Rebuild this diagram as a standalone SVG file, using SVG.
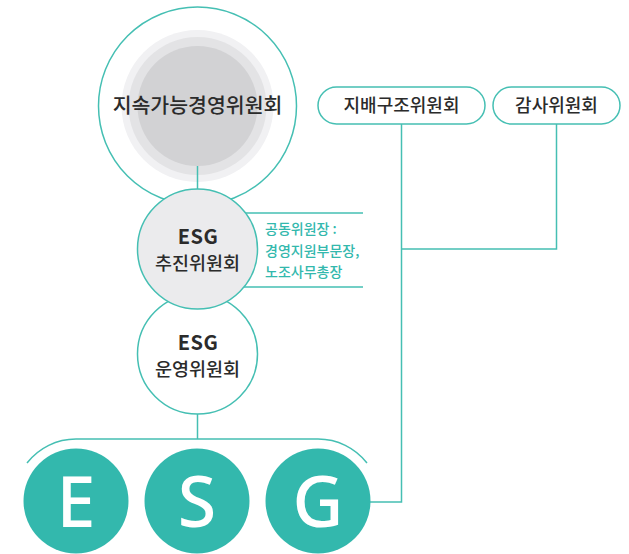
<svg xmlns="http://www.w3.org/2000/svg" width="629" height="554" viewBox="0 0 629 554">
<style>
.ln{fill:none;stroke:#45bfb3;stroke-width:1.5}
.kr{font-family:"Noto Sans CJK KR","Noto Sans",sans-serif;fill:#2b2b2b;text-anchor:middle;font-weight:500}
.esg{font-family:"Noto Sans CJK KR","Noto Sans",sans-serif;fill:#2b2b2b;text-anchor:middle;font-weight:700;font-size:20px;letter-spacing:0.5px}
.note{font-family:"Noto Sans CJK KR","Noto Sans",sans-serif;fill:#33b8ad;font-size:14px;font-weight:500}
.big{font-family:"Noto Sans","DejaVu Sans",sans-serif;fill:#fff;text-anchor:middle;font-size:70px;font-weight:500}
.ec{fill:#33b8ad}
</style>
<rect width="629" height="554" fill="#fff"/>
<g id="connectors">
<line class="ln" x1="197.5" y1="166" x2="197.5" y2="190"/>
<line class="ln" x1="197.5" y1="414" x2="197.5" y2="439"/>
<path class="ln" d="M27 463 A62 62 0 0 1 76 439 L318 439 A62 62 0 0 1 367 463"/>
<path class="ln" d="M401.5 124 L401.5 502 L370 502"/>
<path class="ln" d="M556.5 124 L556.5 249 L401.5 249"/>
<line class="ln" x1="245" y1="213" x2="363" y2="213"/>
<line class="ln" x1="243" y1="287" x2="363" y2="287"/>
</g>
<g id="node-sustain">
<circle cx="197.5" cy="106" r="99" fill="#fff" stroke="#45bfb3" stroke-width="1.5"/>
<circle cx="197.5" cy="106" r="76" fill="#f1f1f3"/>
<circle cx="197.5" cy="106" r="69" fill="#e3e3e5"/>
<circle cx="197.5" cy="106" r="60" fill="#d2d2d4"/>
<line class="ln" x1="197.5" y1="166" x2="197.5" y2="190"/>
<text class="kr" x="197.5" y="113" font-size="20.5">지속가능경영위원회</text>
</g>
<g id="node-operate">
<circle cx="197.5" cy="354" r="60" fill="#fff" stroke="#45bfb3" stroke-width="1.5"/>
<text class="esg" x="198" y="350">ESG</text>
<text class="kr" x="197.5" y="376" font-size="18.5">운영위원회</text>
</g>
<g id="node-promote">
<circle cx="197.5" cy="249" r="60" fill="#ebebed" stroke="#45bfb3" stroke-width="1.5"/>
<text class="esg" x="198" y="244">ESG</text>
<text class="kr" x="197.5" y="270" font-size="18.5">추진위원회</text>
</g>
<g id="node-note">
<text class="note" x="265" y="234">공동위원장 :</text>
<text class="note" x="265" y="256">경영지원부문장,</text>
<text class="note" x="265" y="277">노조사무총장</text>
</g>
<g id="node-governance">
<rect x="318" y="87" width="167" height="37" rx="18.5" fill="#fff" stroke="#45bfb3" stroke-width="1.5"/>
<text class="kr" x="401.5" y="112" font-size="18">지배구조위원회</text>
</g>
<g id="node-audit">
<rect x="493" y="87" width="127" height="37" rx="18.5" fill="#fff" stroke="#45bfb3" stroke-width="1.5"/>
<text class="kr" x="556.5" y="112" font-size="18">감사위원회</text>
</g>
<g id="node-E">
<circle class="ec" cx="76" cy="501" r="52.5"/>
<text class="big" x="76" y="527">E</text>
</g>
<g id="node-S">
<circle class="ec" cx="197" cy="501" r="52.5"/>
<text class="big" x="197" y="527">S</text>
</g>
<g id="node-G">
<circle class="ec" cx="318" cy="501" r="52.5"/>
<text class="big" x="318" y="527">G</text>
</g>
</svg>
